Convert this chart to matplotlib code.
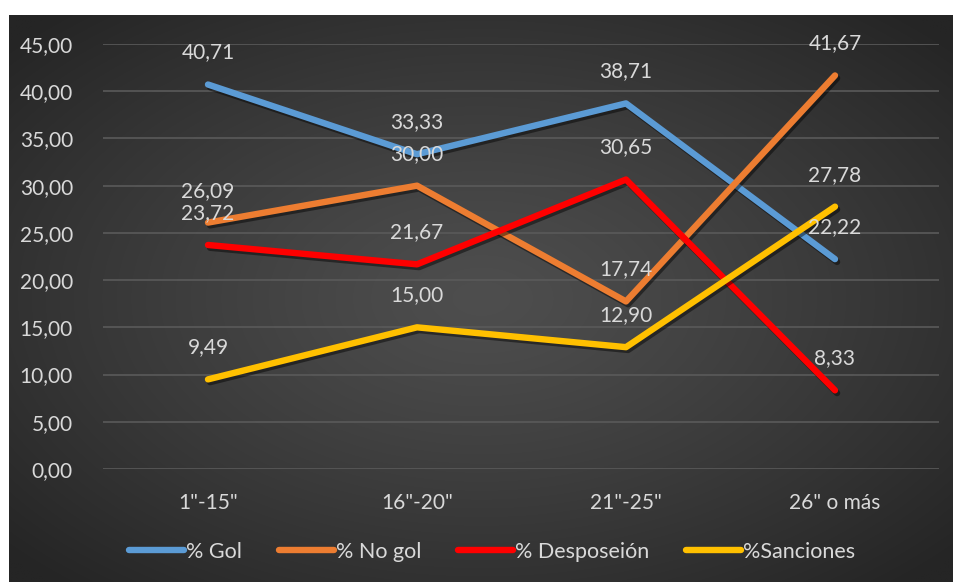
import numpy as np
import matplotlib
matplotlib.use("Agg")
import matplotlib.pyplot as plt
import matplotlib.patheffects as pe
from matplotlib.lines import Line2D

plt.rcParams['font.family'] = ['Lato', 'DejaVu Sans']

categories = ['1"-15"', '16"-20"', '21"-25"', '26" o más']
series_names = ['% Gol', '% No gol', '% Desposeión', '%Sanciones']
gol = [40.71, 33.33, 38.71, 22.22]
no_gol = [26.09, 30.00, 17.74, 41.67]
desposesion = [23.72, 21.67, 30.65, 8.33]
sanciones = [9.49, 15.00, 12.90, 27.78]
y_ticks = [0, 5, 10, 15, 20, 25, 30, 35, 40, 45]

series = [gol, no_gol, desposesion, sanciones]
colors = ['#5B9BD5', '#ED7D31', '#FF0000', '#FFC000']
text_color = '#D9D9D9'

W, H = 954, 582
fig = plt.figure(figsize=(W / 100, H / 100), dpi=100)
fig.patch.set_facecolor('white')

# dark radial-gradient chart background
bg = fig.add_axes([9 / W, 0, 1 - 9 / W, (H - 15) / H])
bg.set_axis_off()
gx, gy = np.meshgrid(np.linspace(-1, 1, 600), np.linspace(-1, 1, 400))
r = np.clip(np.sqrt(gx ** 2 + gy ** 2) / 1.35, 0, 1)
inner, outer = 0x4E / 255, 0x25 / 255
val = inner + (outer - inner) * r ** 1.2
img = np.dstack([val, val, val])
bg.imshow(img, aspect='auto', extent=[0, 1, 0, 1], interpolation='bilinear')
bg.set_xlim(0, 1)
bg.set_ylim(0, 1)

left, right = 103.5 / W, 939.5 / W
bottom, top = (H - 469) / H, (H - 44) / H
ax = fig.add_axes([left, bottom, right - left, top - bottom])
ax.patch.set_alpha(0)
ax.set_xlim(-0.5, len(categories) - 0.5)
ax.set_ylim(0, 45)
ax.set_yticks(y_ticks)
ax.set_yticklabels([f'{v:.2f}'.replace('.', ',') for v in y_ticks])
ax.set_xticks(range(len(categories)))
ax.set_xticklabels(categories)
ax.tick_params(axis='both', length=0, colors=text_color, labelsize=15)
ax.tick_params(axis='y', pad=22)
ax.tick_params(axis='x', pad=17)
for s in ax.spines.values():
    s.set_visible(False)
ax.grid(axis='y', color='#5A5A5A', linewidth=1.2)
ax.set_axisbelow(True)

shadow = [pe.SimpleLineShadow(offset=(1.5, -2), shadow_color='black', alpha=0.45),
          pe.Normal()]
x = np.arange(len(categories))
handles = []
for name, vals, c in zip(series_names, series, colors):
    ax.plot(x, vals, color=c, linewidth=4.6, solid_capstyle='round',
            solid_joinstyle='round', path_effects=shadow, zorder=3)
    handles.append(Line2D([], [], color=c, linewidth=4.6, solid_capstyle='round'))
    for xi, v in zip(x, vals):
        ax.annotate(f'{v:.2f}'.replace('.', ','), (xi, v), xytext=(0, 32),
                    textcoords='offset pixels', ha='center', va='center',
                    color=text_color, fontsize=15, zorder=4)

leg = fig.legend(handles, series_names, loc='center', bbox_to_anchor=(492 / W, (H - 552) / H),
                 ncol=4, frameon=False, fontsize=15.5, handlelength=2.55,
                 handletextpad=0.1, columnspacing=1.7)
for t in leg.get_texts():
    t.set_color(text_color)

fig.savefig('out.png', dpi=100, facecolor=fig.get_facecolor())
